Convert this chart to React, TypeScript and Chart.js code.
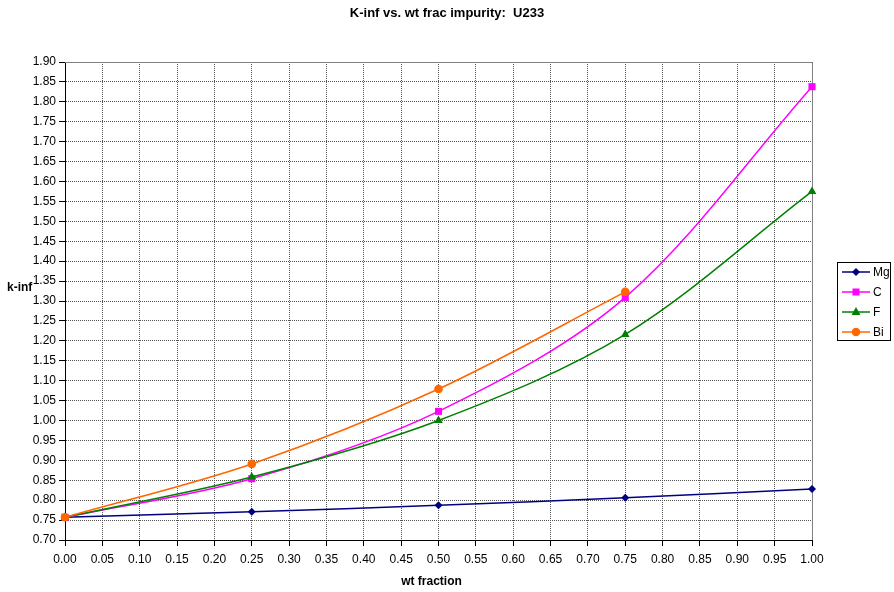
import React, { useEffect, useRef } from "react";
import { Chart, registerables } from "chart.js";

Chart.register(...registerables);

const X_VALUES = [0, 0.25, 0.5, 0.75, 1.0];
const MG = [0.757, 0.771, 0.787, 0.806, 0.828];
const C = [0.757, 0.854, 1.023, 1.309, 1.838];
const F = [0.757, 0.858, 1.0, 1.216, 1.575];
const BI = [0.757, 0.891, 1.079, 1.323];

const SERIES_NAMES = ["Mg", "C", "F", "Bi"];
const SERIES_COLORS = ["#000080", "#FF00FF", "#008000", "#FF6600"];
const SERIES_MARKERS = ["rectRot", "rect", "triangle", "circle"];

const TITLE = "K-inf vs. wt frac impurity:  U233";
const X_TITLE = "wt fraction";
const Y_TITLE = "k-inf";

const X_MIN = 0;
const X_MAX = 1;
const X_STEP = 0.05;
const Y_MIN = 0.7;
const Y_MAX = 1.9;
const Y_STEP = 0.05;

const FONT = "Arial, 'Liberation Sans', sans-serif";

function drawMarker(ctx: CanvasRenderingContext2D, style: string, x: number, y: number, color: string) {
  ctx.save();
  ctx.fillStyle = color;
  ctx.strokeStyle = color;
  ctx.setLineDash([]);
  ctx.beginPath();
  if (style === "rectRot") {
    const r = 4;
    ctx.moveTo(x, y - r);
    ctx.lineTo(x + r, y);
    ctx.lineTo(x, y + r);
    ctx.lineTo(x - r, y);
    ctx.closePath();
  } else if (style === "rect") {
    const s = 3.5;
    ctx.rect(x - s, y - s, 2 * s, 2 * s);
  } else if (style === "triangle") {
    const r = 5;
    ctx.moveTo(x, y - r);
    ctx.lineTo(x + r * 0.9, y + r * 0.6);
    ctx.lineTo(x - r * 0.9, y + r * 0.6);
    ctx.closePath();
  } else {
    ctx.arc(x, y, 4.3, 0, Math.PI * 2);
  }
  ctx.fill();
  ctx.restore();
}

export default function App() {
  const ref = useRef<HTMLCanvasElement>(null);

  useEffect(() => {
    document.body.style.margin = "0";
    const canvas = ref.current;
    if (!canvas) return;

    const seriesValues = [MG, C, F, BI];
    const radii = [4, 5, 5, 4.3];
    const datasets = seriesValues.map((vals, i) => ({
      label: SERIES_NAMES[i],
      data: vals.map((y, j) => ({ x: X_VALUES[j], y })),
      borderColor: SERIES_COLORS[i],
      backgroundColor: SERIES_COLORS[i],
      pointBackgroundColor: SERIES_COLORS[i],
      pointBorderColor: SERIES_COLORS[i],
      pointStyle: SERIES_MARKERS[i],
      pointRadius: radii[i],
      pointBorderWidth: 0,
      borderWidth: 1.5,
      tension: 0.33,
      fill: false,
      clip: false,
      order: 3 - i,
    }));

    const overlay = {
      id: "overlay",
      beforeDatasetsDraw(chart: any) {
        const ctx = chart.ctx as CanvasRenderingContext2D;
        const a = chart.chartArea;
        ctx.save();
        ctx.setLineDash([]);
        ctx.strokeStyle = "#808080";
        ctx.lineWidth = 1;
        ctx.beginPath();
        ctx.moveTo(Math.round(a.left), Math.round(a.top) + 0.5);
        ctx.lineTo(Math.round(a.right) + 0.5, Math.round(a.top) + 0.5);
        ctx.lineTo(Math.round(a.right) + 0.5, Math.round(a.bottom));
        ctx.stroke();
        ctx.restore();
      },
      afterDraw(chart: any) {
        const ctx = chart.ctx as CanvasRenderingContext2D;
        const a = chart.chartArea;
        ctx.save();
        ctx.fillStyle = "#000";
        ctx.textAlign = "center";
        ctx.textBaseline = "alphabetic";
        ctx.font = `bold 13px ${FONT}`;
        ctx.fillText(TITLE, 447, 17);

        ctx.font = `bold 12px ${FONT}`;
        ctx.textBaseline = "middle";
        ctx.fillText(X_TITLE, (a.left + a.right) / 2 - 7, 582);
        ctx.textAlign = "left";
        ctx.fillText(Y_TITLE, 7, 288);

        // legend
        const bx = 837.5, by = 262.5, bw = 53, bh = 78;
        ctx.strokeStyle = "#000";
        ctx.lineWidth = 1;
        ctx.setLineDash([]);
        ctx.strokeRect(bx, by, bw, bh);
        ctx.font = `12px ${FONT}`;
        ctx.textBaseline = "middle";
        ctx.textAlign = "left";
        SERIES_NAMES.forEach((name, i) => {
          const y = 272 + i * 20;
          ctx.strokeStyle = SERIES_COLORS[i];
          ctx.lineWidth = 1.5;
          ctx.beginPath();
          ctx.moveTo(842, y);
          ctx.lineTo(870, y);
          ctx.stroke();
          drawMarker(ctx, SERIES_MARKERS[i], 856, y, SERIES_COLORS[i]);
          ctx.fillStyle = "#000";
          ctx.fillText(name, 873, y + 1);
        });
        ctx.restore();
      },
    };

    const chart = new Chart(canvas, {
      type: "line",
      data: { datasets: datasets as any },
      options: {
        animation: false,
        responsive: false,
        maintainAspectRatio: false,
        layout: { padding: { top: 62, right: 82, left: 0, bottom: 0 } },
        plugins: {
          legend: { display: false },
          title: { display: false },
          tooltip: { enabled: false },
        },
        scales: {
          x: {
            type: "linear",
            min: X_MIN,
            max: X_MAX,
            afterFit: (s: any) => {
              s.height = 52;
            },
            ticks: {
              stepSize: X_STEP,
              autoSkip: false,
              maxRotation: 0,
              minRotation: 0,
              padding: 6,
              color: "#000",
              font: { family: FONT, size: 12 },
              callback: (v: any) => Number(v).toFixed(2),
            },
            grid: {
              color: "#555",
              lineWidth: 1,
              tickColor: "#000",
              tickLength: 6,
              tickBorderDash: [],
            },
            border: { color: "#000", width: 1, dash: [1, 1] },
          },
          y: {
            type: "linear",
            min: Y_MIN,
            max: Y_MAX,
            afterFit: (s: any) => {
              s.width = 65;
            },
            ticks: {
              stepSize: Y_STEP,
              autoSkip: false,
              padding: 3,
              color: "#000",
              font: { family: FONT, size: 12 },
              callback: (v: any) => Number(v).toFixed(2),
            },
            grid: {
              color: "#555",
              lineWidth: 1,
              tickColor: "#000",
              tickLength: 6,
              tickBorderDash: [],
            },
            border: { color: "#000", width: 1, dash: [1, 1] },
          },
        },
      } as any,
      plugins: [overlay],
    });

    return () => chart.destroy();
  }, []);

  return <canvas ref={ref} width={894} height={592} style={{ display: "block" }} />;
}
